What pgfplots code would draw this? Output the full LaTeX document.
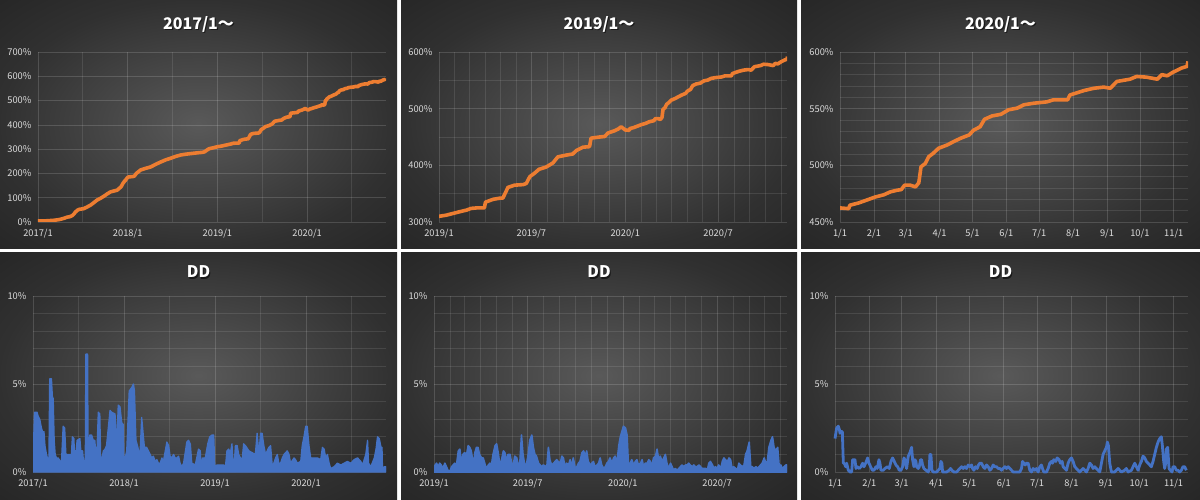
\documentclass[border=0pt]{standalone}
\usepackage{pgfplots}
\pgfplotsset{compat=1.18}
\usepackage{pgfplotstable}
\usepackage{fontspec}
\setmainfont{Noto Sans CJK JP}
\definecolor{tickc}{HTML}{DCDCDC}
\definecolor{orangeC}{HTML}{ED7D31}
\definecolor{blueC}{HTML}{4472C4}
\pgfdeclareradialshading{panelbg}{\pgfpointorigin}{rgb(0bp)=(0.35,0.35,0.35); rgb(25bp)=(0.19,0.19,0.19); rgb(36bp)=(0.15,0.15,0.15); rgb(50bp)=(0.15,0.15,0.15)}

% cumulative return (%), x = days since 2017/1/1
\pgfplotstableread{
x y
0 4
20 4
35 5
50 6
64 7
80 9
91 11
105 15
119 20
130 22
140 27
148 35
152 41
160 48
167 52
180 54
186 55
200 62
213 69
225 78
240 90
255 98
268 106
282 116
295 124
310 128
322 131
330 138
338 145
345 158
352 168
356 172
365 184
371 186
385 187
392 189
400 200
410 208
417 214
435 220
459 227
480 238
499 247
520 256
541 263
560 270
581 276
600 279
624 282
650 285
670 287
678 289
690 298
697 302
715 306
730 310
744 312
757 315
770 318
784 321
793 324
806 325
819 325
821 335
836 340
849 342
855 342
861 353
865 361
878 365
895 366
901 368
908 380
917 386
926 393
940 397
953 404
963 415
979 418
992 420
999 426
1012 432
1025 433
1028 448
1045 450
1055 451
1061 457
1074 461
1081 464
1087 468
1095 462.4
1103 461.8
1104 464.8
1112 466.8
1119 469.2
1127 472
1135 474
1141 476.6
1147 478
1151 478.6
1154 482.5
1159 482.5
1164 481
1167 484.6
1169 498.7
1173 501.7
1176 507.6
1180 510.5
1185 515
1193 518
1199 521
1205 523.8
1213 526.8
1217 531
1223 534
1227 540.6
1234 543.6
1242 545
1249 549
1257 550.5
1263 553.4
1272 554.8
1284 556
1290 557.8
1303 557.8
1305 562
1318 566
1327 568
1336 569
1342 568
1348 574
1360 576
1366 578.4
1375 577.8
1385 576
1389 580
1394 579
1399 582
1407 585.8
1412 587.3
1413 591.7
}\eqtab

% DD 2017/1~ (%)
\pgfplotstableread{
x y
0 0.0
2 1.5
6 3.4
16 3.4
20 3.2
27 3.0
34 2.5
40 2.2
44 2.3
48 1.5
54 1.0
58 0.8
64 0.8
67 5.3
74 5.3
78 4.2
81 4.2
85 1.8
89 1.0
94 0.8
101 0.8
114 0.5
121 2.6
127 2.5
132 1.0
154 1.0
158 2.0
164 1.9
168 0.5
177 1.8
188 1.9
192 1.2
199 1.2
206 0.0
210 1.0
212 6.7
219 6.7
221 1.0
228 2.1
235 2.1
242 1.8
248 1.8
255 0.5
262 3.4
268 3.3
272 0.3
282 1.2
289 1.3
295 1.5
309 3.5
315 3.4
329 3.3
336 1.5
342 3.8
349 3.7
356 2.8
362 2.7
365 0.5
376 1.2
386 4.6
396 4.8
403 5.0
407 4.6
413 1.8
419 1.5
429 0.9
436 3.1
443 2.0
447 1.4
456 1.4
463 1.2
470 1.0
476 0.8
483 0.9
490 0.6
497 0.7
503 0.5
510 0.5
517 0.8
523 0.6
537 1.7
544 1.5
550 0.9
557 0.8
564 1.0
570 0.8
577 0.8
584 0.9
590 0.5
597 0.3
604 0.5
617 1.7
624 1.8
631 1.6
637 0.5
651 0.4
664 1.3
671 1.2
675 0.0
680 0.8
691 0.8
701 1.6
709 2.0
718 2.1
725 2.1
729 0.3
738 0.4
765 0.4
772 0.3
778 1.2
785 1.3
792 1.1
798 1.6
805 0.0
812 1.5
819 1.5
825 1.0
832 0.8
839 0.7
845 1.6
852 1.5
866 1.2
879 1.1
892 1.0
899 2.2
906 1.0
913 2.2
919 2.2
926 1.5
933 1.0
946 1.4
953 1.5
960 0.3
966 0.5
973 0.8
980 1.0
986 0.5
993 0.5
1000 0.8
1007 1.0
1013 1.1
1020 1.2
1027 1.0
1033 0.5
1047 0.8
1053 0.7
1060 0.5
1074 0.6
1080 1.5
1087 2.0
1094 2.6
1100 2.6
1107 1.5
1114 0.8
1127 0.8
1141 0.8
1154 0.7
1161 1.4
1168 1.3
1174 0.8
1181 1.0
1188 0.5
1194 0.2
1208 0.3
1221 0.5
1235 0.4
1248 0.5
1261 0.6
1275 0.5
1288 0.7
1302 0.8
1315 0.6
1322 0.4
1335 1.0
1342 1.8
1346 0.5
1355 0.3
1369 0.8
1376 1.3
1382 2.0
1389 1.9
1396 1.4
1400 1.4
1402 0.1
1409 0.3
1416 0.3
1418 0.0
}\ddA

% DD 2019/1~ (%)
\pgfplotstableread{
x y
730 0.3
735 0.5
738 0.3
741 0.5
744 0.4
747 0.2
751 0.5
754 0.3
757 0.1
760 0.0
764 0.3
767 0.4
770 0.5
773 0.3
777 1.2
780 1.3
783 0.5
786 1.0
789 1.1
793 1.0
796 1.5
799 1.4
802 1.2
804 0.8
807 0.6
809 1.1
812 1.4
815 1.4
818 1.0
822 0.8
825 0.8
828 0.5
831 0.2
835 0.4
838 0.5
841 0.4
844 1.0
848 1.5
851 1.6
854 1.1
857 0.5
860 0.6
864 1.2
867 1.1
870 0.6
873 1.0
877 1.0
880 0.5
883 0.4
886 0.9
890 0.8
893 0.3
896 0.6
899 2.1
902 1.0
906 0.3
909 0.5
912 1.0
915 1.8
919 2.1
922 1.4
925 1.0
928 0.9
932 0.5
935 0.4
938 0.3
941 0.4
948 0.3
951 1.4
954 0.7
957 0.4
961 0.5
964 0.6
967 0.7
970 0.6
974 0.5
977 0.9
980 0.8
983 0.3
986 0.5
990 0.4
993 0.7
996 0.3
999 0.8
1003 0.2
1006 0.3
1009 0.5
1012 0.6
1016 1.1
1019 1.2
1022 0.9
1025 1.2
1028 0.6
1032 0.4
1035 0.5
1038 0.6
1041 0.3
1045 0.4
1048 0.5
1051 0.8
1054 0.4
1058 0.2
1061 0.3
1064 0.5
1067 0.6
1070 0.8
1074 0.5
1077 0.8
1080 0.9
1083 0.4
1087 1.5
1090 2.0
1093 2.3
1096 2.6
1100 2.5
1103 2.1
1106 0.2
1109 0.5
1112 0.7
1116 0.4
1119 0.6
1122 0.7
1125 0.4
1129 0.5
1132 0.7
1135 0.3
1138 0.5
1142 0.5
1145 0.7
1148 0.6
1151 0.3
1154 0.8
1158 0.9
1161 1.3
1164 0.7
1167 0.9
1171 0.6
1174 0.8
1177 1.0
1180 0.5
1183 0.2
1187 0.5
1190 0.3
1193 0.1
1196 0.2
1200 0.1
1203 0.2
1206 0.3
1209 0.4
1213 0.3
1216 0.4
1219 0.4
1222 0.5
1225 0.4
1229 0.3
1232 0.4
1235 0.3
1238 0.3
1242 0.4
1245 0.3
1248 0.2
1251 0.2
1255 0.2
1258 0.1
1261 0.5
1264 0.6
1268 0.4
1271 0.2
1274 0.3
1277 0.2
1280 0.4
1284 0.2
1287 0.6
1290 0.8
1293 0.7
1297 0.6
1300 0.8
1303 0.7
1306 0.2
1309 0.3
1313 0.2
1316 0.1
1319 0.5
1322 0.4
1326 0.3
1329 0.4
1332 1.0
1335 1.2
1339 1.7
1342 0.3
1345 0.3
1348 0.2
1352 0.3
1355 0.2
1358 0.3
1361 0.4
1364 0.5
1368 0.8
1371 0.5
1374 0.6
1377 1.4
1381 1.8
1384 2.0
1387 1.4
1390 1.2
1394 1.4
1397 0.3
1400 0.4
1403 0.2
1406 0.3
1410 0.4
1413 0.4
}\ddB

% DD 2020/1~ (%)
\pgfplotstableread{
x y
1095 1.9
1096.5 2.5
1098 2.6
1099 2.4
1099.5 2.2
1100.4 2.3
1101.6 2.3
1102.5 0.5
1103.4 0.5
1104.6 0.3
1105.5 0.5
1107 0.1
1108.5 0.0
1110 0.0
1110.9 0.7
1113 0.7
1113.9 0.2
1115.1 0.3
1116.9 0.2
1118.4 0.3
1119.9 0.5
1121.1 0.3
1122.6 0.5
1124.4 0.8
1125.6 0.5
1127.1 0.3
1128.6 0.1
1130.1 0.1
1131.9 0.3
1133.1 0.2
1134.6 0.7
1135.5 0.5
1136.4 0.1
1138.5 0.1
1140 0.2
1142.1 0.3
1143.9 0.2
1145.4 0.6
1146.9 0.8
1148.4 0.6
1149.9 0.4
1151.4 0.3
1152.9 0.1
1154.4 0.1
1155.9 0.3
1157.1 0.8
1158 0.7
1159.5 0.2
1161 0.9
1162.5 1.1
1164 1.4
1164.9 0.7
1166.1 0.3
1167 0.7
1167.9 0.6
1168.5 0.3
1170 0.2
1170.9 0.3
1172.1 0.7
1173 0.7
1173.9 0.4
1175.1 0.2
1176.9 0.1
1179 0.0
1179.9 0.2
1180.5 1.0
1181.4 1.0
1182.3 0.1
1183.5 0.0
1186.5 0.0
1189.5 0.2
1190.4 0.6
1191.3 0.5
1191.9 0.0
1195.5 0.0
1197.9 0.1
1199.1 0.2
1200.3 0.1
1202.1 0.0
1204.5 0.0
1206 0.1
1207.5 0.2
1209 0.3
1210.5 0.2
1212 0.3
1213.5 0.2
1215 0.4
1216.5 0.3
1218 0.4
1218.9 0.2
1220.1 0.1
1221.6 0.3
1223.1 0.2
1224.3 0.4
1225.5 0.5
1227 0.5
1228.5 0.3
1230 0.2
1231.5 0.4
1233 0.3
1234.5 0.1
1236 0.2
1237.5 0.4
1239 0.3
1240.5 0.3
1242 0.2
1243.5 0.2
1245 0.1
1246.5 0.2
1248 0.3
1249.5 0.2
1251 0.3
1252.5 0.2
1254 0.1
1255.5 0.0
1261.5 0.0
1263 0.2
1263.9 0.6
1265.1 0.5
1266.3 0.4
1267.5 0.5
1269 0.5
1270.5 0.1
1272 0.0
1273.5 0.2
1275 0.1
1276.5 0.2
1278 0.0
1279.5 0.3
1281 0.4
1281.9 0.2
1283.1 0.0
1285.5 0.0
1287 0.2
1288.5 0.5
1290 0.6
1290.9 0.5
1292.1 0.7
1293.9 0.6
1295.1 0.8
1296.9 0.7
1298.1 0.5
1299.6 0.6
1300.5 0.3
1302 0.2
1303.5 0.1
1305 0.5
1306.5 0.7
1308 0.8
1309.5 0.6
1311 0.3
1312.5 0.2
1314 0.1
1315.5 0.0
1317 0.1
1318.5 0.2
1320 0.1
1321.5 0.0
1323 0.2
1324.5 0.5
1326 0.4
1327.5 0.2
1329 0.3
1330.5 0.2
1332 0.1
1333.5 0.0
1335 0.5
1336.5 1.0
1338 1.2
1339.5 1.4
1340.4 1.7
1341.3 1.5
1342.5 0.5
1344 0.0
1347 0.0
1348.5 0.1
1350 0.2
1351.5 0.1
1353 0.0
1356 0.1
1357.5 0.2
1359 0.0
1362 0.1
1363.5 0.3
1365 0.5
1366.5 0.3
1368 0.1
1369.5 0.4
1371 0.6
1372.5 0.9
1374 0.8
1375.5 0.6
1377 0.5
1378.5 0.4
1380 0.3
1381.5 0.6
1383 1.0
1384.5 1.4
1386 1.7
1387.5 1.9
1389 2.0
1389.9 1.5
1391.1 0.6
1392 0.2
1392.9 0.5
1393.5 1.3
1394.7 1.4
1395.9 0.2
1397.1 0.1
1398.6 0.0
1399.5 0.3
1401 0.3
1402.5 0.1
1404 0.1
1405.5 0.0
1407 0.1
1408.5 0.3
1410 0.3
1411.5 0.1
}\ddC

\pgfplotsset{
  panel/.style={
    scale only axis, anchor=south west,
    axis line style={draw=none},
    major tick length=0pt, minor tick length=0pt,
    grid=both,
    major grid style={draw=white, draw opacity=0.15, line width=0.7pt},
    minor grid style={draw=white, draw opacity=0.10, line width=0.7pt},
    tick label style={font=\fontsize{9.3}{10}\selectfont, text=tickc},
    xticklabel style={yshift=-3.5pt},
    yticklabel style={xshift=-3pt},
  },
  eqpanel/.style={panel, width=348pt, height=170pt},
  ddpanel/.style={panel, width=353pt, height=176pt, ymin=0, ymax=10,
    ytick={0,5,10}, yticklabels={0\%,5\%,10\%}, minor ytick={1,2,3,4,6,7,8,9}},
  xyears/.style={xmin=0, xmax=1416, xtick={0,365,730,1095},
    xticklabels={2017/1,2018/1,2019/1,2020/1}, minor xtick={181,546,911,1277}},
  xhalf/.style={xmin=730, xmax=1412, xtick={730,911,1095,1277},
    xticklabels={2019/1,2019/7,2020/1,2020/7},
    minor xtick={761,789,820,850,881,942,973,1003,1034,1064,1126,1155,1186,1216,1247,1308,1339,1369,1400}},
  xmonths/.style={xmin=1095, xmax=1413, xtick={1095,1126,1155,1186,1216,1247,1277,1308,1339,1369,1400},
    xticklabels={1/1,2/1,3/1,4/1,5/1,6/1,7/1,8/1,9/1,10/1,11/1}},
  eqline/.style={color=orangeC, line width=3.6pt, line join=round},
}

\newcommand{\paneltitle}[3]{%
  \node[font=\fontsize{16}{16}\selectfont\bfseries, text=black, opacity=0.55] at (#1+1.2,#2-1.2) {#3};
  \node[font=\fontsize{16}{16}\selectfont\bfseries, text=white] at (#1,#2) {#3};}

\begin{document}
\begin{tikzpicture}[x=1pt,y=1pt]
\fill[white] (0,0) rectangle (1200,499);
\useasboundingbox (0,0) rectangle (1200,499);
% backgrounds
\shade[shading=panelbg] (0,251) rectangle (397,499);
\shade[shading=panelbg] (401,251) rectangle (797,499);
\shade[shading=panelbg] (801,251) rectangle (1200,499);
\shade[shading=panelbg] (0,0) rectangle (397,247);
\shade[shading=panelbg] (401,0) rectangle (797,247);
\shade[shading=panelbg] (801,0) rectangle (1200,247);
% titles
\paneltitle{198.5}{475}{2017/1～}
\paneltitle{599}{475}{2019/1～}
\paneltitle{1000.5}{475}{2020/1～}
\paneltitle{198.5}{227}{DD}
\paneltitle{599}{227}{DD}
\paneltitle{1000.5}{227}{DD}

% top-left
\begin{axis}[eqpanel, at={(38pt,277pt)}, xyears, ymin=0, ymax=700,
  ytick={0,100,...,700}, yticklabels={0\%,100\%,200\%,300\%,400\%,500\%,600\%,700\%}]
\addplot[eqline] table[x=x,y=y] {\eqtab};
\end{axis}
% top-middle
\begin{axis}[eqpanel, at={(439pt,277pt)}, xhalf, ymin=300, ymax=600,
  ytick={300,400,500,600}, yticklabels={300\%,400\%,500\%,600\%}, minor ytick={350,450,550}]
\addplot[eqline] table[x=x,y=y] {\eqtab};
\end{axis}
% top-right
\begin{axis}[eqpanel, at={(840pt,277pt)}, xmonths, ymin=450, ymax=600,
  ytick={450,500,550,600}, yticklabels={450\%,500\%,550\%,600\%},
  minor ytick={460,470,480,490,510,520,530,540,560,570,580,590}]
\addplot[eqline] table[x=x,y=y] {\eqtab};
\end{axis}

% bottom-left
\begin{axis}[ddpanel, at={(33pt,27pt)}, xyears]
\addplot[draw=blueC, fill=blueC, line width=1.3pt, line join=round] table[x=x,y=y] {\ddA} \closedcycle;
\end{axis}
% bottom-middle
\begin{axis}[ddpanel, at={(434pt,27pt)}, xhalf]
\addplot[draw=blueC, fill=blueC, line width=1.6pt, line join=round] table[x=x,y=y] {\ddB} \closedcycle;
\end{axis}
% bottom-right
\begin{axis}[ddpanel, at={(835pt,27pt)}, xmonths, clip=false]
\addplot[draw=blueC, line width=2.8pt, line join=round] table[x=x,y=y] {\ddC};
\end{axis}
\end{tikzpicture}
\end{document}
